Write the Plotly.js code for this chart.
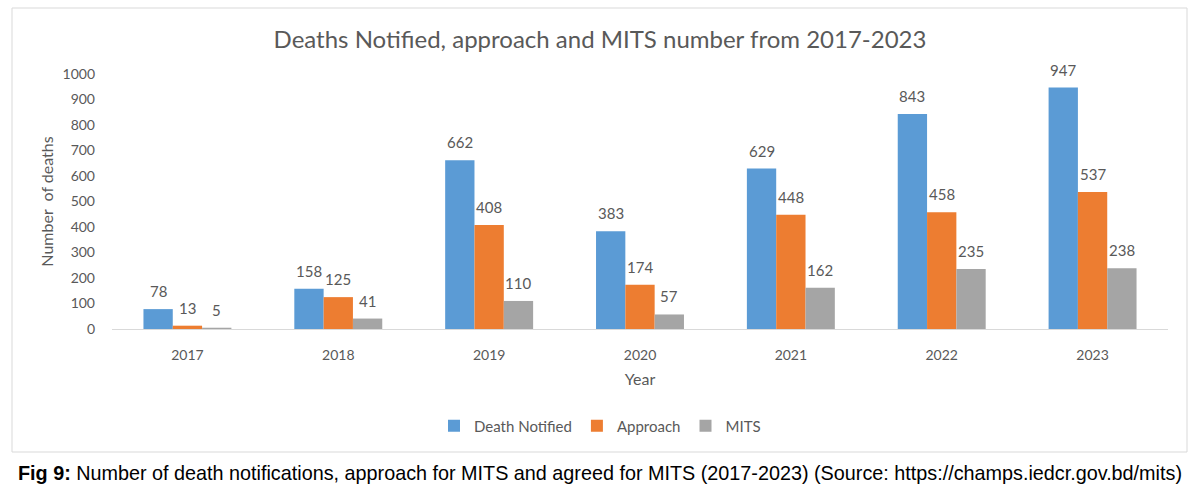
<!DOCTYPE html>
<html>
<head>
<meta charset="utf-8">
<script src="https://cdn.plot.ly/plotly-3.0.1.min.js"></script>
<style>
html,body{margin:0;padding:0;background:#fff;}
#chart{width:1200px;height:504px;}
</style>
</head>
<body>
<div id="chart"></div>
<script>
var years = ['2017','2018','2019','2020','2021','2022','2023'];
var deathNotified = [78, 158, 662, 383, 629, 843, 947];
var approach = [13, 125, 408, 174, 448, 458, 537];
var mits = [5, 41, 110, 57, 162, 235, 238];
var seriesNames = ['Death Notified', 'Approach', 'MITS'];
var seriesColors = ['#5B9BD5', '#ED7D31', '#A5A5A5'];
var yTicks = [0,100,200,300,400,500,600,700,800,900,1000];

var FONT = 'Lato, "Open Sans", sans-serif';
var TXT = '#595959';
var seriesVals = [deathNotified, approach, mits];

var traces = seriesVals.map(function(v, i){
  return {
    type: 'bar', x: years, y: v, name: seriesNames[i],
    marker: {color: seriesColors[i]},
    hoverinfo: 'none', cliponaxis: false
  };
});

var L = 112, R = 32, T = 74, B = 175, W = 1200, H = 504;
var plotW = W - L - R;
var plotH = H - T - B;
var catW = plotW / years.length;
var bargap = 0.417;
var barW = catW * (1 - bargap) / 3;

var annotations = [];
seriesVals.forEach(function(v, i){
  v.forEach(function(val, j){
    annotations.push({
      x: j, y: val, xref: 'x', yref: 'y',
      text: String(val), showarrow: false,
      xshift: (i - 1) * barW, yshift: 18, yanchor: 'middle',
      font: {family: FONT, size: 15, color: TXT}
    });
  });
});

annotations.push({
  xref: 'paper', yref: 'paper', x: (600 - L) / plotW, y: (H - B - 473) / plotH,
  xanchor: 'center', yanchor: 'middle', showarrow: false,
  text: '<b>Fig 9:</b> Number of death notifications, approach for MITS and agreed for MITS (2017-2023) (Source: https://champs.iedcr.gov.bd/mits)',
  font: {family: '"Liberation Sans", Arial, sans-serif', size: 19.8, color: '#000'}
});

var layout = {
  width: W, height: H,
  margin: {l: L, r: R, t: T, b: B},
  paper_bgcolor: '#fff', plot_bgcolor: '#fff',
  barmode: 'group', bargap: bargap, bargroupgap: 0,
  title: {
    text: 'Deaths Notified, approach and MITS number from 2017-2023',
    font: {family: FONT, size: 24, color: TXT},
    x: 0.5, xref: 'container', xanchor: 'center',
    y: 1 - 40 / H, yref: 'container', yanchor: 'middle'
  },
  xaxis: {
    type: 'category', range: [-0.5, years.length - 0.5], autorange: false,
    showgrid: false, zeroline: false,
    showline: true, linecolor: '#D9D9D9', linewidth: 1,
    ticks: '', ticklabelstandoff: 13,
    tickfont: {family: FONT, size: 14, color: TXT},
    title: {text: 'Year', font: {family: FONT, size: 16, color: TXT}, standoff: 12}
  },
  yaxis: {
    range: [0, 1000], autorange: false, tickvals: yTicks, ticktext: yTicks.map(String),
    showgrid: false, zeroline: false, showline: false,
    ticks: '', ticklabelstandoff: 16,
    tickfont: {family: FONT, size: 14, color: TXT},
    title: {text: 'Number&nbsp;&nbsp;of deaths', font: {family: FONT, size: 16, color: TXT}, standoff: 4}
  },
  showlegend: true,
  legend: {
    orientation: 'h', x: (600 - L) / plotW, xanchor: 'center',
    y: (H - B - 426) / plotH, yanchor: 'middle',
    font: {family: FONT, size: 15, color: TXT},
    itemwidth: 30
  },
  shapes: [{
    type: 'rect', xref: 'paper', yref: 'paper',
    x0: (12 - L) / plotW, x1: (1187 - L) / plotW,
    y0: (H - B - 452) / plotH, y1: (H - B - 8) / plotH,
    line: {color: '#D9D9D9', width: 1}, fillcolor: 'rgba(0,0,0,0)', layer: 'below'
  }],
  annotations: annotations
};

Plotly.newPlot('chart', traces, layout, {displayModeBar: false, staticPlot: true});
</script>
</body>
</html>
